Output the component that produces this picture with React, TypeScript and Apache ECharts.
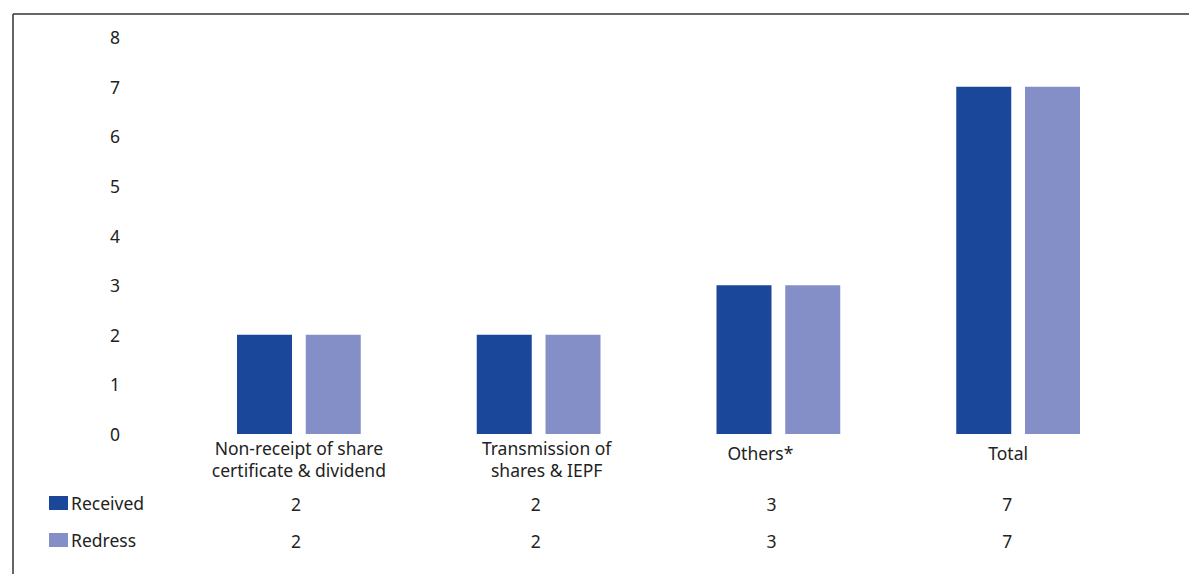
import React, { useEffect, useRef } from "react";
import * as echarts from "echarts";

const categories = [
  "Non-receipt of share\ncertificate & dividend",
  "Transmission of\nshares & IEPF",
  "Others*",
  "Total",
];
const received = [2, 2, 3, 7];
const redress = [2, 2, 3, 7];
const yTicks = [0, 1, 2, 3, 4, 5, 6, 7, 8];

const DARK = "#1a479a";
const LIGHT = "#858fc7";
const TEXT = "#222222";
const FONT = "Noto Sans";
const FS = 17.5;

// small horizontal nudges (px) of the labels under each category, as in the reference
const catShift = [0, 8, -18, -10];
const valShift = [-3, -3, -7, -11];
const catTopPad = [0, 0, 9, 9];

function richFor(shifts: number[], top: number[] | null, lh: number, prefix: string) {
  const rich: Record<string, any> = {};
  shifts.forEach((s, i) => {
    rich[prefix + i] = {
      fontSize: FS,
      color: TEXT,
      fontFamily: FONT,
      lineHeight: lh,
      padding: [top ? top[i] : 0, s < 0 ? -2 * s : 0, 0, s > 0 ? 2 * s : 0],
    };
  });
  return rich;
}

export default function App() {
  const ref = useRef<HTMLDivElement>(null);
  useEffect(() => {
    document.body.style.margin = "0";
    const chart = echarts.init(ref.current!, null, { renderer: "svg" });
    const hiddenAxis = {
      axisLine: { show: false },
      axisTick: { show: false },
      splitLine: { show: false },
    };
    const wrap = (v: string, i: number) => "{c" + i + "|" + v + "}";
    chart.setOption({
      animation: false,
      backgroundColor: "#ffffff",
      textStyle: { fontFamily: FONT },
      grid: { left: 179, right: 51, top: 37, bottom: 140 },
      legend: {
        orient: "vertical",
        left: 49,
        top: 494,
        padding: 0,
        icon: "rect",
        itemWidth: 19,
        itemHeight: 14,
        itemGap: 19,
        textStyle: { fontSize: FS, color: TEXT, fontFamily: FONT, padding: [0, 0, 0, -2] },
        data: ["Received", "Redress"],
      },
      xAxis: [
        {
          type: "category",
          data: categories,
          ...hiddenAxis,
          axisLabel: {
            color: TEXT,
            fontSize: FS,
            fontFamily: FONT,
            lineHeight: 22,
            margin: 3,
            interval: 0,
            formatter: (v: string, i: number) =>
              v
                .split("\n")
                .map((line, k) => "{" + (k === 0 ? "c" : "d") + i + "|" + line + "}")
                .join("\n"),
            rich: {
              ...richFor(catShift, catTopPad, 22, "c"),
              ...richFor(catShift, null, 22, "d"),
            },
          },
        },
        {
          type: "category",
          data: received.map(String),
          position: "bottom",
          offset: 60,
          ...hiddenAxis,
          axisLabel: {
            color: TEXT,
            fontSize: FS,
            fontFamily: FONT,
            margin: 0,
            interval: 0,
            formatter: (v: string, i: number) => wrap(v, i),
            rich: richFor(valShift, null, 20, "c"),
          },
        },
        {
          type: "category",
          data: redress.map(String),
          position: "bottom",
          offset: 97,
          ...hiddenAxis,
          axisLabel: {
            color: TEXT,
            fontSize: FS,
            fontFamily: FONT,
            margin: 0,
            interval: 0,
            formatter: (v: string, i: number) => wrap(v, i),
            rich: richFor(valShift, null, 20, "c"),
          },
        },
      ],
      yAxis: {
        type: "value",
        min: yTicks[0],
        max: yTicks[yTicks.length - 1],
        interval: 1,
        ...hiddenAxis,
        axisLabel: { color: TEXT, fontSize: FS, fontFamily: FONT, margin: 59 },
      },
      series: [
        {
          name: "Received",
          type: "bar",
          data: received,
          barWidth: 55,
          barGap: "25%",
          itemStyle: { color: DARK },
        },
        {
          name: "Redress",
          type: "bar",
          data: redress,
          barWidth: 55,
          barGap: "25%",
          itemStyle: { color: LIGHT },
        },
      ],
      graphic: [
        {
          type: "line",
          shape: { x1: 13, y1: 14, x2: 1189, y2: 14 },
          style: { stroke: "#333333", lineWidth: 1.5 },
        },
        {
          type: "line",
          shape: { x1: 13, y1: 14, x2: 13, y2: 574 },
          style: { stroke: "#333333", lineWidth: 1.5 },
        },
      ],
    });
    return () => chart.dispose();
  }, []);
  return (
    <div
      ref={ref}
      style={{ position: "absolute", left: 0, top: 0, width: 1189, height: 574 }}
    />
  );
}
